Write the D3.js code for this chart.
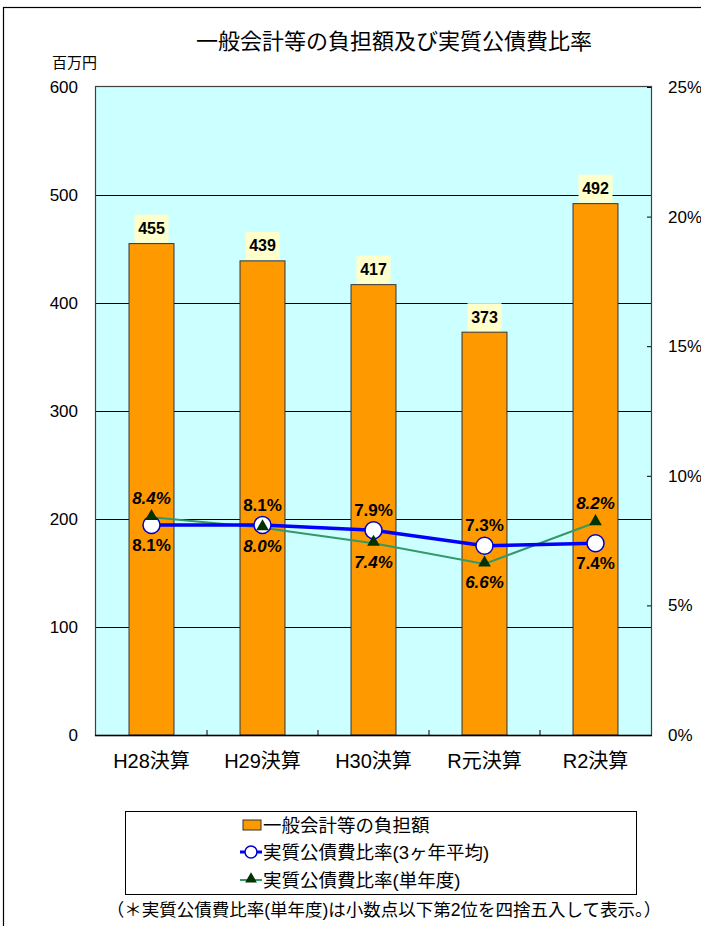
<!DOCTYPE html>
<html>
<head>
<meta charset="utf-8">
<script src="https://cdn.jsdelivr.net/npm/d3@7"></script>
<style>
    body { margin: 0; background: #fff; }
    svg text { font-family: "Liberation Sans", "Noto Sans CJK JP", sans-serif; fill: #000; }
</style>
</head>
<body>
<svg id="chart" width="701" height="926"></svg>
<script>
// chart data
var categories = ["H28決算", "H29決算", "H30決算", "R元決算", "R2決算"];
var burdenValues = [455, 439, 417, 373, 492];            // 百万円
var ratioAvgValues = [8.1, 8.1, 7.9, 7.3, 7.4];          // % (3ヶ年平均)
var ratioSingleValues = [8.4, 8.0, 7.4, 6.6, 8.2];       // % (単年度)
var leftTicks = [0, 100, 200, 300, 400, 500, 600];
var rightTicks = [0, 5, 10, 15, 20, 25];
var legendLabels = ["一般会計等の負担額", "実質公債費比率(3ヶ年平均)", "実質公債費比率(単年度)"];

// label side per point: -1 above, 1 below
var avgLabelSide = [1, -1, -1, -1, 1];
var singleLabelSide = [-1, 1, 1, 1, -1];

var svg = d3.select("#chart");

var plotLeft = 96, plotRight = 651, plotTop = 87, plotBottom = 735;

var x = d3.scaleBand()
    .domain(categories)
    .range([plotLeft, plotRight])
    .paddingInner(0.595)
    .paddingOuter(0.2975);

var yLeft = d3.scaleLinear().domain([0, 600]).range([plotBottom, plotTop]);
var yRight = d3.scaleLinear().domain([0, 25]).range([plotBottom, plotTop]);

function cx(d, i) {
    return x(categories[i]) + x.bandwidth() / 2;
}

// outer frame
svg.append("rect")
    .attr("x", 3.5).attr("y", 7.5)
    .attr("width", 800).attr("height", 1000)
    .attr("fill", "none")
    .attr("stroke", "#000")
    .attr("stroke-width", 1.2);

// title
svg.append("text")
    .attr("x", 394).attr("y", 49)
    .attr("text-anchor", "middle")
    .style("font-size", "22px")
    .text("一般会計等の負担額及び実質公債費比率");

svg.append("text")
    .attr("x", 52).attr("y", 68)
    .style("font-size", "15px")
    .text("百万円");

// plot area
svg.append("rect")
    .attr("x", plotLeft).attr("y", plotTop)
    .attr("width", plotRight - plotLeft).attr("height", plotBottom - plotTop)
    .attr("fill", "#CCFFFF");

// gridlines
svg.append("g").selectAll("line")
    .data(leftTicks.filter(function(d) { return d > 0 && d < 600; }))
    .enter().append("line")
    .attr("x1", plotLeft).attr("x2", plotRight)
    .attr("y1", function(d) { return Math.round(yLeft(d)) + 0.5; })
    .attr("y2", function(d) { return Math.round(yLeft(d)) + 0.5; })
    .attr("stroke", "#000")
    .attr("stroke-width", 1);

// plot border
svg.append("rect")
    .attr("x", plotLeft - 0.5).attr("y", plotTop - 0.5)
    .attr("width", plotRight - plotLeft + 1).attr("height", plotBottom - plotTop + 1)
    .attr("fill", "none")
    .attr("stroke", "#404040")
    .attr("stroke-width", 1.2);

// bars
svg.append("g").selectAll("rect")
    .data(burdenValues)
    .enter().append("rect")
    .attr("x", function(d, i) { return x(categories[i]); })
    .attr("y", function(d) { return yLeft(d); })
    .attr("width", x.bandwidth())
    .attr("height", function(d) { return plotBottom - yLeft(d); })
    .attr("fill", "#FF9900")
    .attr("stroke", "#333")
    .attr("stroke-width", 1);

// bar value labels
var barLabels = svg.append("g").selectAll("g")
    .data(burdenValues)
    .enter().append("g")
    .attr("transform", function(d, i) {
        return "translate(" + cx(d, i) + "," + (yLeft(d) - 15) + ")";
    });

barLabels.append("rect")
    .attr("x", -17).attr("y", -14)
    .attr("width", 34).attr("height", 28)
    .attr("fill", "#FFFFCC");

barLabels.append("text")
    .attr("text-anchor", "middle")
    .attr("dominant-baseline", "central")
    .style("font-size", "16px")
    .style("font-weight", "bold")
    .text(function(d) { return d; });

// bottom axis line and boundary ticks
svg.append("line")
    .attr("x1", plotLeft - 1).attr("x2", plotRight + 1)
    .attr("y1", plotBottom + 0.5).attr("y2", plotBottom + 0.5)
    .attr("stroke", "#000")
    .attr("stroke-width", 1.5);

svg.append("g").selectAll("line")
    .data(categories.slice(1))
    .enter().append("line")
    .attr("x1", function(d) { return x(d) - (x.step() - x.bandwidth()) / 2; })
    .attr("x2", function(d) { return x(d) - (x.step() - x.bandwidth()) / 2; })
    .attr("y1", plotBottom).attr("y2", plotBottom - 5)
    .attr("stroke", "#000");

var xAxis = svg.append("g")
    .attr("transform", "translate(0," + plotBottom + ")")
    .call(d3.axisBottom(x).tickSize(0).tickPadding(19));
xAxis.select(".domain").remove();
xAxis.selectAll("text")
    .style("font-size", "20px")
    .style("font-family", "Liberation Sans, Noto Sans CJK JP, sans-serif");

// left axis
var leftAxis = svg.append("g")
    .attr("transform", "translate(" + plotLeft + ",0)")
    .call(d3.axisLeft(yLeft).tickValues(leftTicks).tickSize(0).tickPadding(18));
leftAxis.select(".domain").remove();
leftAxis.selectAll("text")
    .style("font-size", "17px")
    .style("font-family", "Liberation Sans, sans-serif");

// right axis
var rightAxis = svg.append("g")
    .attr("transform", "translate(" + plotRight + ",0)")
    .call(d3.axisRight(yRight).tickValues(rightTicks).tickSize(-4).tickPadding(17)
        .tickFormat(function(d) { return d + "%"; }));
rightAxis.select(".domain").remove();
rightAxis.selectAll("line").attr("stroke", "#000");
rightAxis.selectAll("text")
    .style("font-size", "17px")
    .style("font-family", "Liberation Sans, sans-serif");

// lines
var lineGen = d3.line()
    .x(function(d, i) { return cx(d, i); })
    .y(function(d) { return yRight(d); });

svg.append("path")
    .datum(ratioSingleValues)
    .attr("d", lineGen)
    .attr("fill", "none")
    .attr("stroke", "#339966")
    .attr("stroke-width", 2);

svg.append("path")
    .datum(ratioAvgValues)
    .attr("d", lineGen)
    .attr("fill", "none")
    .attr("stroke", "#0000FF")
    .attr("stroke-width", 3.5);

svg.append("g").selectAll("circle")
    .data(ratioAvgValues)
    .enter().append("circle")
    .attr("cx", cx)
    .attr("cy", function(d) { return yRight(d); })
    .attr("r", 8.5)
    .attr("fill", "#fff")
    .attr("stroke", "#0000CC")
    .attr("stroke-width", 1.5);

var triangle = d3.symbol().type(d3.symbolTriangle).size(70);

svg.append("g").selectAll("path")
    .data(ratioSingleValues)
    .enter().append("path")
    .attr("d", triangle)
    .attr("transform", function(d, i) {
        return "translate(" + cx(d, i) + "," + (yRight(d) - 1) + ")";
    })
    .attr("fill", "#003300");

// line value labels
var pctFormat = d3.format(".1f");

svg.append("g").selectAll("text")
    .data(ratioAvgValues)
    .enter().append("text")
    .attr("x", cx)
    .attr("y", function(d, i) { return yRight(d) + avgLabelSide[i] * 20; })
    .attr("text-anchor", "middle")
    .attr("dominant-baseline", "central")
    .style("font-size", "17px")
    .style("font-weight", "bold")
    .text(function(d) { return pctFormat(d) + "%"; });

svg.append("g").selectAll("text")
    .data(ratioSingleValues)
    .enter().append("text")
    .attr("x", cx)
    .attr("y", function(d, i) { return yRight(d) + singleLabelSide[i] * 19; })
    .attr("text-anchor", "middle")
    .attr("dominant-baseline", "central")
    .style("font-size", "17px")
    .style("font-weight", "bold")
    .style("font-style", "italic")
    .text(function(d) { return pctFormat(d) + "%"; });

// legend
var legend = svg.append("g");

legend.append("rect")
    .attr("x", 125.5).attr("y", 811.5)
    .attr("width", 511).attr("height", 83)
    .attr("fill", "#fff")
    .attr("stroke", "#000")
    .attr("stroke-width", 1);

var legendRowY = [825, 852, 880];

legend.append("rect")
    .attr("x", 243).attr("y", legendRowY[0] - 5)
    .attr("width", 18).attr("height", 10)
    .attr("fill", "#FF9900")
    .attr("stroke", "#333");

legend.append("line")
    .attr("x1", 240).attr("x2", 262)
    .attr("y1", legendRowY[1]).attr("y2", legendRowY[1])
    .attr("stroke", "#0000FF").attr("stroke-width", 3);
legend.append("circle")
    .attr("cx", 251).attr("cy", legendRowY[1]).attr("r", 6)
    .attr("fill", "#fff").attr("stroke", "#0000CC").attr("stroke-width", 1.5);

legend.append("line")
    .attr("x1", 240).attr("x2", 262)
    .attr("y1", legendRowY[2]).attr("y2", legendRowY[2])
    .attr("stroke", "#339966").attr("stroke-width", 2);
legend.append("path")
    .attr("d", d3.symbol().type(d3.symbolTriangle).size(60))
    .attr("transform", "translate(251," + (legendRowY[2] - 1) + ")")
    .attr("fill", "#003300");

legend.selectAll("text.item")
    .data(legendLabels)
    .enter().append("text")
    .attr("class", "item")
    .attr("x", 263)
    .attr("y", function(d, i) { return legendRowY[i]; })
    .attr("dominant-baseline", "central")
    .style("font-size", "18.5px")
    .text(function(d) { return d; });

// footnote
svg.append("text")
    .attr("x", 384).attr("y", 910)
    .attr("text-anchor", "middle")
    .attr("dominant-baseline", "central")
    .style("font-size", "17.5px")
    .text("（＊実質公債費比率(単年度)は小数点以下第2位を四捨五入して表示。）");
</script>
</body>
</html>
